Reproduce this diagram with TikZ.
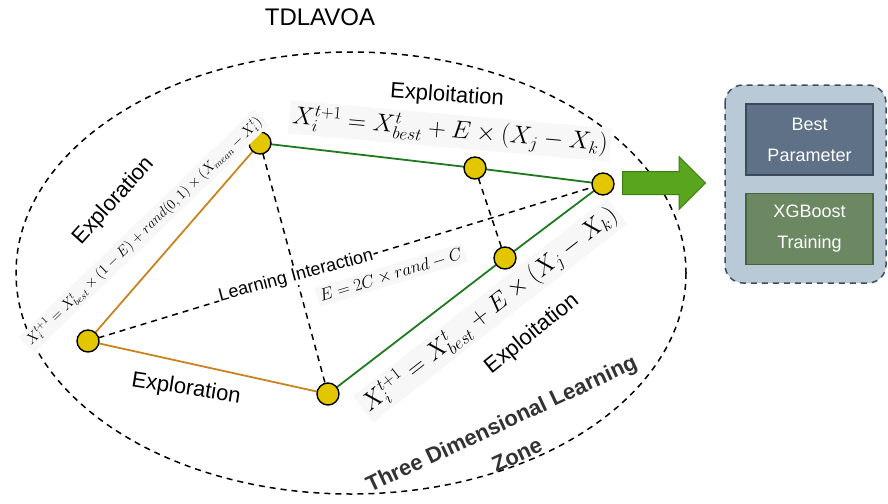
\documentclass[tikz,border=0pt]{standalone}
\usepackage{fontspec}
\setmainfont{Liberation Sans}
\usepackage{tikz}
\usetikzlibrary{shapes.arrows}
\pgfdeclarelayer{edgelayer}
\pgfdeclarelayer{nodelayer}
\pgfsetlayers{edgelayer,main,nodelayer}

\definecolor{dotfill}{HTML}{E2C700}
\definecolor{explore}{HTML}{C8841E}
\definecolor{exploit}{HTML}{1F7A1F}
\definecolor{arrowfill}{HTML}{5AA51E}
\definecolor{arrowline}{HTML}{3E7D12}
\definecolor{panelfill}{HTML}{B9C9D6}
\definecolor{panelline}{HTML}{3B4F63}
\definecolor{bestfill}{HTML}{5F7187}
\definecolor{bestline}{HTML}{3A4A5C}
\definecolor{xgbfill}{HTML}{6B8862}
\definecolor{xgbline}{HTML}{486340}

\tikzset{
	agent/.style={circle, draw=black, line width=1.4pt, fill=dotfill, minimum size=22pt, inner sep=0pt},
	lbl/.style={font=\fontsize{22}{26}\selectfont, inner sep=1pt},
	eqn/.style={fill=black!3, inner sep=3pt},
	interact/.style={line width=1.5pt, dash pattern=on 6pt off 5pt},
	box/.style={draw, line width=1.5pt, minimum width=127pt, minimum height=71pt, text=white, align=center, font=\fontsize{18}{31}\selectfont}
}

\begin{document}
\begin{tikzpicture}[x=1pt, y=-1pt]
	\useasboundingbox (0, 0) rectangle (888, 503);
	\begin{pgfonlayer}{nodelayer}
		\node [agent] (0) at (260, 143) {};
		\node [agent] (1) at (475, 168) {};
		\node [agent] (2) at (603, 184) {};
		\node [agent] (3) at (505, 258) {};
		\node [agent] (4) at (88, 341) {};
		\node [agent] (5) at (328, 394) {};
		\node [font=\fontsize{24}{28}\selectfont] (6) at (320, 17) {TDLAVOA};
		\node [lbl, rotate=-4] (7) at (447, 96) {Exploitation};
		\node [lbl, rotate=48] (8) at (114, 201) {Exploration};
		\node [lbl, rotate=-9] (9) at (186, 389) {Exploration};
		\node [lbl, rotate=39] (10) at (532, 334) {Exploitation};
		\node [lbl, font=\fontsize{18}{21}\selectfont, fill=white, rotate=15] (11) at (296, 276) {Learning Interaction};
		\node [eqn, rotate=-5, font=\fontsize{24}{28}\selectfont] (12) at (450, 131) {$X_i^{t+1} = X_{best}^t + E \times (X_j - X_k)$};
		\node [eqn, rotate=44, font=\fontsize{14.5}{17}\selectfont] (13) at (144, 231) {$X_i^{t+1} = X_{best}^t \times (1-E) + rand(0,1) \times (X_{mean} - X_i^t)$};
		\node [eqn, rotate=38, font=\fontsize{23}{27}\selectfont] (14) at (490, 310) {$X_i^{t+1} = X_{best}^t + E \times (X_j - X_k)$};
		\node [eqn, rotate=17, font=\fontsize{16}{19}\selectfont] (15) at (391, 275) {$E = 2C \times rand - C$};
		\node [lbl, font=\fontsize{22}{26}\bfseries\selectfont, text=black!80, rotate=25] (16) at (502, 425) {Three Dimensional Learning};
		\node [lbl, font=\fontsize{22}{26}\bfseries\selectfont, text=black!80, rotate=25] (17) at (517, 455) {Zone};
		\node [single arrow, draw=arrowline, fill=arrowfill, line width=1pt, minimum height=83pt, inner xsep=0pt, inner ysep=11pt, single arrow head extend=15pt, single arrow head indent=0pt, anchor=tail] (18) at (622, 183) {};
		\node [box, fill=bestfill, draw=bestline] (19) at (809.5, 139.5) {Best\\Parameter};
		\node [box, fill=xgbfill, draw=xgbline] (20) at (809.5, 229) {XGBoost\\Training};
	\end{pgfonlayer}
	\begin{pgfonlayer}{edgelayer}
		\draw [interact] (351, 273) ellipse [x radius=335, y radius=221];
		\draw [fill=panelfill, draw=panelline, interact, rounded corners=18pt] (725, 85) rectangle (886, 283);
		\draw [explore, line width=1.8pt] (0.center) to (4.center);
		\draw [explore, line width=1.8pt] (4.center) to (5.center);
		\draw [exploit, line width=1.8pt] (0.center) to (1.center);
		\draw [exploit, line width=1.8pt] (1.center) to (2.center);
		\draw [exploit, line width=1.8pt] (5.center) to (3.center);
		\draw [exploit, line width=1.8pt] (3.center) to (2.center);
		\draw [interact] (0.center) to (5.center);
		\draw [interact] (1.center) to (3.center);
		\draw [interact] (4.center) to (2.center);
	\end{pgfonlayer}
\end{tikzpicture}
\end{document}
